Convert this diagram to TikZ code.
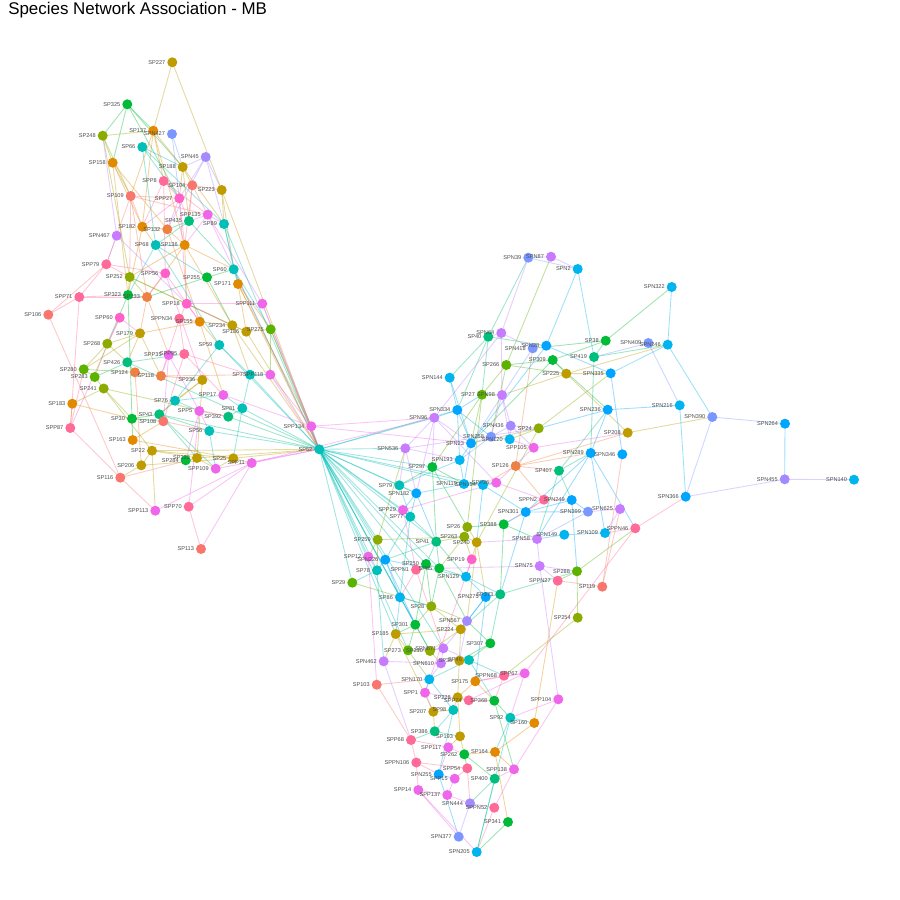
\documentclass[tikz,border=0pt]{standalone}
\usepackage{fontspec}
\setmainfont{Liberation Sans}
\pgfdeclarelayer{bg}
\pgfdeclarelayer{fg}
\pgfsetlayers{bg,main,fg}
\definecolor{c1}{HTML}{F8766D}
\definecolor{c2}{HTML}{E18A00}
\definecolor{c2b}{HTML}{EE8044}
\definecolor{c3}{HTML}{BE9C00}
\definecolor{c4}{HTML}{8CAB00}
\definecolor{c5}{HTML}{5BB300}
\definecolor{c6}{HTML}{00BA38}
\definecolor{c7}{HTML}{00BF7D}
\definecolor{c8}{HTML}{00BFB8}
\definecolor{c9}{HTML}{00B4EF}
\definecolor{c10}{HTML}{00A5FF}
\definecolor{c11}{HTML}{7997FF}
\definecolor{c12}{HTML}{A58AFF}
\definecolor{c13}{HTML}{C77CFF}
\definecolor{c14}{HTML}{F066EA}
\definecolor{c15}{HTML}{FF6A98}
\definecolor{c16}{HTML}{FF61C9}
\definecolor{labgray}{HTML}{4D4D4D}
\newcommand\nd[5]{%
  \node[dot,fill=#4] (#1) at (#2,#3) {};%
  \expandafter\gdef\csname ec#1\endcsname{#4}%
  \begin{pgfonlayer}{fg}\node[lab] (#1-t) at ({#2-6.8},#3) {#5};\end{pgfonlayer}}
\begin{document}
\begin{tikzpicture}[x=0.75pt,y=-0.75pt,
  dot/.style={circle,inner sep=0pt,minimum size=7.5pt,draw=none},
  lab/.style={font=\fontsize{4.2}{5}\selectfont,text=labgray,inner sep=0pt,anchor=east},
  edge/.style={line width=0.65pt,opacity=0.38},
  ttl/.style={font=\fontsize{12.7}{14}\selectfont,anchor=base west,inner sep=0pt}]
\useasboundingbox (0,0) rectangle (900,900);
\begin{pgfonlayer}{bg}\fill[white] (0,0) rectangle (900,900);\end{pgfonlayer}
\node[ttl] (title) at (8,14) {Species Network Association - MB};
% ---- left cluster
\nd{SP227}{172.3}{62.3}{c3}{SP227}
\nd{SP325}{127.3}{104.3}{c6}{SP325}
\nd{SP137}{153.3}{130.7}{c2}{SP137}
\nd{SPN427}{172}{134}{c11}{SPN427}
\nd{SP248}{102.7}{135.7}{c4}{SP248}
\nd{SP66}{142.3}{147}{c8}{SP66}
\nd{SPN45}{205.7}{157}{c12}{SPN45}
\nd{SP158}{112.7}{162.7}{c2}{SP158}
\nd{SP188}{182.7}{167}{c3}{SP188}
\nd{SPP8}{163.7}{181}{c15}{SPP8}
\nd{SP104}{192.3}{185.3}{c1}{SP104}
\nd{SP223}{221.7}{190}{c3}{SP223}
\nd{SP109}{130.7}{196}{c1}{SP109}
\nd{SPP27}{179.3}{198.3}{c16}{SPP27}
\nd{SPP135}{207.7}{214.7}{c14}{SPP135}
\nd{SP435}{189}{221}{c7}{SP435}
\nd{SP89}{224}{224}{c8}{SP89}
\nd{SP182}{142.3}{226.7}{c2}{SP182}
\nd{SP132}{167.3}{229.3}{c2b}{SP132}
\nd{SPN467}{116.7}{235.7}{c13}{SPN467}
\nd{SP68}{155.7}{245}{c8}{SP68}
\nd{SP136}{184.7}{245}{c2}{SP136}
\nd{SPP79}{106.3}{264.3}{c15}{SPP79}
\nd{SPP56}{165.3}{273.3}{c16}{SPP56}
\nd{SP60}{233.7}{269.3}{c8}{SP60}
\nd{SP255}{207}{277.3}{c6}{SP255}
\nd{SP252}{129.7}{277}{c4}{SP252}
\nd{SP171}{238}{284}{c2}{SP171}
\nd{SPP71}{79.3}{297}{c15}{SPP71}
\nd{SP323}{128}{295}{c6}{SP323}
\nd{SP133}{147}{297}{c2b}{SP133}
\nd{SPP18}{186.7}{303.7}{c16}{SPP18}
\nd{SPP111}{262.3}{303.7}{c14}{SPP111}
\nd{SP106}{48.3}{314.7}{c1}{SP106}
\nd{SPP60}{119.7}{317.7}{c16}{SPP60}
\nd{SPPN34}{179.3}{318.7}{c15}{SPPN34}
\nd{SP155}{199.7}{321.7}{c2}{SP155}
\nd{SP234}{232.3}{325.3}{c3}{SP234}
\nd{SP186}{246.3}{331.7}{c3}{SP186}
\nd{SP275}{270.7}{329.3}{c5}{SP275}
\nd{SP179}{140}{333.3}{c3}{SP179}
\nd{SP268}{107.3}{343.7}{c4}{SP268}
\nd{SP59}{219.3}{345}{c8}{SP59}
\nd{SPP35}{168.7}{355}{c14}{SPP35}
\nd{SPP95}{184.3}{354}{c15}{SPP95}
\nd{SP426}{127.3}{362.3}{c7}{SP426}
\nd{SP280}{83.7}{369.3}{c5}{SP280}
\nd{SP124}{135}{372.3}{c2b}{SP124}
\nd{SP118}{161}{376}{c2b}{SP118}
\nd{SP283}{94.7}{377}{c5}{SP283}
\nd{SP236}{202.3}{380}{c3}{SP236}
\nd{SP7}{250}{374.7}{c8}{SP7}
\nd{SPP118}{270.3}{374.7}{c14}{SPP118}
\nd{SP241}{103.7}{388.5}{c4}{SP241}
\nd{SP183}{72.3}{403.7}{c2}{SP183}
\nd{SPP17}{223.3}{395}{c14}{SPP17}
\nd{SP76}{175}{400.7}{c8}{SP76}
\nd{SP81}{242.3}{408.3}{c8}{SP81}
\nd{SPP5}{199.3}{411}{c14}{SPP5}
\nd{SP43}{159.3}{414.3}{c7}{SP43}
\nd{SP392}{228.3}{416.7}{c7}{SP392}
\nd{SP30}{132}{418.7}{c6}{SP30}
\nd{SP108}{163.3}{421.3}{c1}{SP108}
\nd{SPP134}{311.3}{426.3}{c14}{SPP134}
\nd{SPP87}{70.3}{428}{c15}{SPP87}
\nd{SP56}{209.3}{431}{c8}{SP56}
\nd{SP163}{132.7}{440}{c2}{SP163}
\nd{SP52}{319.3}{449.3}{c8}{SP52}
\nd{SP22}{152}{450.7}{c3}{SP22}
\nd{SP25}{233.3}{458.3}{c3}{SP25}
\nd{SP222}{197}{458}{c3}{SP222}
\nd{SP284}{185.7}{460.3}{c6}{SP284}
\nd{SPP11}{251.7}{463}{c14}{SPP11}
\nd{SP206}{141.3}{465.3}{c3}{SP206}
\nd{SPP109}{215.7}{468.7}{c14}{SPP109}
\nd{SP116}{120.3}{477.7}{c1}{SP116}
\nd{SPP70}{188.7}{506.7}{c15}{SPP70}
\nd{SPP113}{155.3}{510.7}{c14}{SPP113}
\nd{SP113}{201}{549}{c1}{SP113}
% ---- right cluster
\nd{SPN39}{528.3}{257.7}{c11}{SPN39}
\nd{SPN87}{551}{256.7}{c13}{SPN87}
\nd{SPN2}{577.7}{269}{c9}{SPN2}
\nd{SPN322}{671.7}{287}{c9}{SPN322}
\nd{SPN64}{501.3}{333}{c13}{SPN64}
\nd{SP40}{488.3}{336.7}{c7}{SP40}
\nd{SPN418}{532.7}{348.3}{c11}{SPN418}
\nd{SPN28}{546.3}{345.7}{c10}{SPN28}
\nd{SP38}{605.7}{340.7}{c6}{SP38}
\nd{SPN409}{648.3}{343}{c11}{SPN409}
\nd{SPN246}{667.7}{344.7}{c9}{SPN246}
\nd{SP419}{594}{357}{c7}{SP419}
\nd{SP309}{552.7}{360}{c6}{SP309}
\nd{SP266}{506.3}{365}{c5}{SP266}
\nd{SP225}{566.3}{373.7}{c3}{SP225}
\nd{SPN335}{610.7}{373.3}{c10}{SPN335}
\nd{SPN144}{449.7}{377.7}{c9}{SPN144}
\nd{SP27}{482}{394.7}{c5}{SP27}
\nd{SPN88}{502}{395}{c13}{SPN98}
\nd{SPN216}{679.7}{405.3}{c9}{SPN216}
\nd{SPN236}{607.7}{409.7}{c10}{SPN236}
\nd{SPN334}{457.3}{410}{c10}{SPN334}
\nd{SPN390}{712.3}{417}{c11}{SPN390}
\nd{SPN96}{434.3}{417.7}{c13}{SPN96}
\nd{SPN264}{785}{423.7}{c10}{SPN264}
\nd{SPN436}{510.7}{425.7}{c12}{SPN436}
\nd{SP24}{538.7}{428.3}{c4}{SP24}
\nd{SP208}{627.7}{432.7}{c3}{SP208}
\nd{SPN258}{491}{436.7}{c11}{SPN258}
\nd{SPN120}{509.7}{439.3}{c9}{SPN120}
\nd{SPN23}{471}{443.3}{c10}{SPN23}
\nd{SPN536}{405.3}{448.3}{c13}{SPN536}
\nd{SPP105}{533.7}{447.7}{c14}{SPP105}
\nd{SPN289}{590.7}{453}{c10}{SPN289}
\nd{SPN346}{622.3}{454.3}{c10}{SPN346}
\nd{SPN193}{459.7}{460}{c9}{SPN193}
\nd{SP126}{515.7}{466}{c2b}{SP126}
\nd{SP297}{432.3}{467}{c6}{SP297}
\nd{SP407}{559}{470.7}{c7}{SP407}
\nd{SPN455}{784.7}{479.3}{c12}{SPN455}
\nd{SPN140}{854}{479.7}{c9}{SPN140}
\nd{SPN119}{464}{484}{c9}{SPN119}
\nd{SPN154}{483}{485}{c9}{SPN154}
\nd{SPP26}{496.3}{482.7}{c14}{SPP26}
\nd{SP79}{399.3}{485.3}{c8}{SP79}
\nd{SPN182}{416.3}{493.3}{c10}{SPN182}
\nd{SPN366}{685.7}{496.7}{c10}{SPN366}
\nd{SPPN2}{544}{499.7}{c15}{SPPN2}
\nd{SPN249}{571.7}{500}{c10}{SPN249}
\nd{SPN625}{620}{509}{c13}{SPN625}
\nd{SPP29}{403}{510}{c14}{SPP29}
\nd{SPN301}{525.7}{512}{c10}{SPN301}
\nd{SPN399}{588}{511.7}{c11}{SPN399}
\nd{SP77}{410.3}{516.7}{c8}{SP77}
\nd{SPPN46}{635.3}{528.3}{c15}{SPPN46}
\nd{SP388}{503.7}{524.3}{c6}{SP388}
\nd{SP26}{467.3}{527}{c4}{SP26}
\nd{SPN109}{605}{533}{c9}{SPN109}
\nd{SPN149}{564.3}{534.7}{c9}{SPN149}
\nd{SP263}{464.3}{536.7}{c4}{SP263}
\nd{SPN58}{537}{539}{c13}{SPN58}
\nd{SP259}{377.7}{539.7}{c4}{SP259}
\nd{SP41}{436.3}{541.7}{c7}{SP41}
\nd{SP240}{476.7}{542.3}{c3}{SP240}
\nd{SPP12}{368.3}{556.7}{c14}{SPP12}
\nd{SPP19}{471.7}{559.3}{c16}{SPP19}
\nd{SPN226}{385.3}{559.7}{c10}{SPN226}
\nd{SP250}{426}{564}{c6}{SP250}
\nd{SPN75}{539.7}{566}{c13}{SPN75}
\nd{SP85}{439.3}{568.3}{c6}{SP85}
\nd{SPPN1}{416}{569.7}{c15}{SPPN1}
\nd{SP78}{377}{570.3}{c8}{SP78}
\nd{SP288}{577}{571.3}{c5}{SP288}
\nd{SPN129}{466}{576.7}{c9}{SPN129}
\nd{SPPN27}{557.7}{580.7}{c15}{SPPN27}
\nd{SP29}{352.3}{582.7}{c5}{SP29}
\nd{SP119}{602.3}{586.7}{c1}{SP119}
\nd{SP373}{500.3}{594.3}{c7}{SP373}
\nd{SPN275}{485.7}{597}{c10}{SPN275}
\nd{SP86}{400}{597.3}{c9}{SP86}
\nd{SP28}{431.3}{606.3}{c4}{SP28}
\nd{SP254}{577.7}{617.7}{c4}{SP254}
\nd{SPN567}{467}{621}{c12}{SPN567}
\nd{SP301}{415.3}{624.7}{c6}{SP301}
\nd{SP224}{460.7}{629.3}{c3}{SP224}
\nd{SP185}{395.7}{634}{c3}{SP185}
\nd{SP307}{490.3}{643.3}{c6}{SP307}
\nd{SPN671}{443.3}{648.3}{c13}{SPN671}
\nd{SP273}{408}{650.3}{c5}{SP273}
\nd{SP210}{430}{651}{c4}{SP210}
\nd{SP36}{459.3}{660.7}{c3}{SP36}
\nd{SP46}{469}{660}{c8}{SP46}
\nd{SPN462}{383.7}{661.3}{c13}{SPN462}
\nd{SPN610}{441}{663.3}{c13}{SPN610}
\nd{SPPN68}{504}{675.7}{c15}{SPPN68}
\nd{SPP67}{524.7}{673.3}{c14}{SPP67}
\nd{SPN170}{429.3}{679.3}{c9}{SPN170}
\nd{SP175}{475.3}{681.3}{c2}{SP175}
\nd{SP103}{376.7}{684.7}{c1}{SP103}
\nd{SPP1}{425}{692.7}{c14}{SPP1}
\nd{SP228}{457.7}{697.3}{c3}{SP228}
\nd{SPP74}{468.7}{700.3}{c15}{SPP74}
\nd{SP368}{494.3}{700.7}{c6}{SP368}
\nd{SPP104}{558.3}{699.3}{c14}{SPP104}
\nd{SP207}{433.3}{711.7}{c3}{SP207}
\nd{SP98}{453.3}{710}{c8}{SP98}
\nd{SP92}{510.3}{717.7}{c8}{SP92}
\nd{SP160}{534.3}{723}{c2}{SP160}
\nd{SP386}{434.7}{731.3}{c7}{SP386}
\nd{SP193}{460}{736.3}{c3}{SP193}
\nd{SPP68}{411}{740}{c15}{SPP68}
\nd{SPP117}{448.3}{747.3}{c14}{SPP117}
\nd{SP164}{495}{752}{c2}{SP164}
\nd{SP262}{464.3}{754.3}{c6}{SP262}
\nd{SPPN106}{416.3}{762.5}{c15}{SPPN106}
\nd{SPP54}{467.3}{768.3}{c15}{SPP54}
\nd{SPP138}{514}{769.3}{c14}{SPP138}
\nd{SPN255}{438.7}{774.3}{c10}{SPN255}
\nd{SPP15}{454.7}{778.7}{c14}{SPP15}
\nd{SP400}{494.7}{778.7}{c7}{SP400}
\nd{SPP14}{418.3}{790}{c14}{SPP14}
\nd{SPP137}{447.3}{795}{c14}{SPP137}
\nd{SPN444}{470}{803.3}{c12}{SPN444}
\nd{SPPN52}{494.3}{807.7}{c15}{SPPN52}
\nd{SP341}{508}{822}{c6}{SP341}
\nd{SPN377}{458.7}{836.7}{c11}{SPN377}
\nd{SPN205}{476.7}{852}{c9}{SPN205}
% ---- edges
\begin{pgfonlayer}{bg}
\foreach \a/\b in {
SP227/SP137, SP227/SP223,
SP325/SP248, SP325/SP158, SP325/SP188, SP325/SPP27, SP325/SP137,
SP248/SP137, SP248/SP158, SP248/SP252, SP248/SP109,
SP137/SP188, SP137/SPP8, SP137/SP136, SP137/SP182, SP137/SP109,
SPN427/SPP27, SPN427/SP188,
SP66/SP188, SP66/SP68, SP66/SPP27, SP66/SP89,
SPN45/SP188, SPN45/SP89, SPN45/SP223, SPN45/SP132, SPN45/SPP27,
SP158/SP109, SP158/SP132, SP158/SP182, SP158/SP323,
SP188/SP104, SP188/SP89, SP188/SPP27, SP188/SP435,
SPP8/SP104, SPP8/SPP56, SPP8/SPP135, SPP8/SPP27, SPP8/SP182,
SP104/SP223, SP104/SPP135, SP104/SP435, SP104/SP136,
SP109/SPP27, SP109/SPP135, SP109/SP182, SP109/SPP79, SP109/SP252, SP109/SP133,
SP223/SP89, SP223/SP60, SP223/SP52,
SPP27/SP136, SPP27/SP132, SPP27/SP182, SPP27/SP435, SPP27/SPP18,
SPP135/SP89, SPP135/SP435, SPP135/SPP111, SPP135/SP136, SPP135/SP52,
SP435/SP132, SP435/SP68, SP435/SP60,
SP89/SP60, SP89/SP52, SP89/SP171,
SP182/SP132, SP182/SP68, SP182/SP323,
SP132/SP136, SP132/SP155,
SPN467/SPP79, SPN467/SPP18, SPN467/SP248,
SP68/SP323, SP68/SP255, SP68/SP136, SP68/SP59,
SP136/SP252, SP136/SP60, SP136/SPP18, SP136/SP133, SP136/SP234,
SPP79/SPP71, SPP79/SPP56, SPP79/SP252,
SPP56/SP133, SPP56/SP155, SPP56/SP236,
SP255/SP133, SP255/SP234, SP255/SP60,
SP60/SP171, SP60/SP275, SP60/SP52,
SP252/SP323, SP252/SP133, SP252/SP234, SP252/SP186,
SP171/SP186, SP171/SP275, SP171/SP52, SP171/SPP134,
SPP71/SP133, SPP71/SP106, SPP71/SPP87, SPP71/SP323,
SP323/SP133, SP323/SP30, SP323/SP268,
SP133/SP179, SP133/SPP35,
SPP18/SP155, SPP18/SP234, SPP18/SPPN34, SPP18/SPP111,
SP106/SP116, SP106/SPP79,
SPP60/SP268, SPP60/SP179, SPP60/SPP87,
SPPN34/SP155, SPPN34/SP118, SPPN34/SPP95,
SP155/SP179, SP155/SP234, SP155/SP59, SP155/SPP17,
SP234/SP186, SP234/SP52, SP234/SP7,
SP186/SP275, SP186/SP52,
SP275/SPP118, SP275/SP52, SP275/SPP134,
SPP111/SP52, SPP111/SPP134,
SP179/SP268, SP179/SP426, SP179/SP280, SP179/SP118,
SP268/SP280, SP268/SP426, SP268/SP283,
SP59/SP76, SP59/SP7, SP59/SP52,
SPP35/SP118, SPP35/SPP5, SPP35/SP108,
SPP95/SPP17, SPP95/SP7, SPP95/SP108,
SP426/SP124, SP426/SPP95, SP426/SP283, SP426/SP52,
SP280/SP283, SP280/SP124,
SP124/SP118, SP124/SP206,
SP118/SP236, SP118/SP7,
SP236/SP76, SP236/SP222, SP236/SP43,
SP7/SPP118, SP7/SP81, SP7/SP52,
SPP118/SP52, SPP118/SPP134,
SP241/SP283, SP241/SP183, SP241/SP30, SP241/SP392, SP241/SP22,
SP183/SPP87, SP183/SP30,
SPP87/SP116, SPP87/SP280,
SP30/SP43, SP30/SP163, SP30/SP108,
SP43/SP108, SP43/SP76, SP43/SP56, SP43/SPP109, SP43/SP222, SP43/SP52,
SP76/SPP5, SP76/SPP17,
SPP5/SP56, SPP5/SP392, SPP5/SPP70, SPP5/SP284,
SP81/SP392, SP81/SPP17, SP81/SP25, SP81/SP52,
SP392/SP52, SPP17/SPP134,
SP56/SP52, SP56/SPP109,
SP163/SP25, SP163/SP108,
SP22/SP206, SP22/SPP113, SP22/SP222, SP22/SP25, SP22/SP52,
SP222/SP284, SP222/SPP109, SP222/SP52,
SP25/SPP11, SP25/SPP109, SP25/SP52,
SPP11/SP113, SPP11/SPP113, SPP11/SPP70, SPP11/SP52,
SPP109/SP52, SP206/SP116, SP206/SP25,
SP116/SPP113, SP116/SP222, SPP70/SP113, SP108/SP56, SPP134/SP52,
SP52/SPN334, SPP134/SPN96, SP52/SPN96, SP52/SPN536, SP52/SP297, SP52/SP79,
SP52/SPN182, SP52/SPP29, SP52/SP77, SP52/SPN119, SP52/SPN154, SP52/SP259,
SP52/SPP12, SP52/SPN226, SP52/SP78, SP52/SP29, SP52/SP86, SP52/SP301,
SP52/SP185, SP52/SP273, SP52/SP210, SP52/SPN671, SP52/SP41, SP52/SP250,
SP52/SP85, SP52/SPPN1, SPP134/SPN23, SPP11/SPN96,
SPN39/SPN87, SPN39/SPN2, SPN64/SPN39, SP40/SPN39, SP266/SPN87, SPN87/SPN2,
SPN2/SPN28, SPN2/SP419,
SP419/SPN289, SP419/SPN246, SP419/SP38,
SPN64/SP40, SP40/SPN144, SP40/SPN28, SPN64/SPN88, SP40/SPN334, SP40/SP27, SPN64/SPN96, SPN64/SPN418,
SPN144/SPN334, SPN144/SPN23,
SP126/SPN418, SPN418/SPN23,
SPN28/SPN23, SPN28/SPN335,
SP309/SP266, SP309/SP38, SP309/SP225, SP309/SPN23, SP309/SPN236,
SP266/SP225, SP266/SP27, SP266/SPN258,
SP225/SPN246, SP225/SPN335, SP225/SP208, SP225/SPN88,
SP38/SPN322, SP38/SPN418,
SPN322/SPN246,
SPN246/SPN335, SPN246/SPN390,
SPN409/SPN216, SPN409/SP419,
SPN335/SPN346, SP24/SPN335,
SPN236/SPN216, SPN236/SPN289, SP407/SPN236, SPN236/SP24,
SPN216/SPN366,
SPN390/SPN366, SPN390/SPN264, SP208/SPN390,
SPN264/SPN455, SPN455/SPN366, SPN455/SPN140,
SPP105/SP208, SP126/SP208,
SP126/SPN289, SPN289/SPN301, SPN289/SPN58, SPN289/SPPN46, SPN289/SPN109,
SP119/SPN346, SP119/SPN625, SP119/SPPN27,
SPN625/SPN399, SPN625/SPN109,
SPPN46/SPN366, SP288/SPPN46, SPPN46/SPP67, SPPN46/SPN109,
SPN149/SPN109, SPN149/SPN58,
SP288/SP254, SP288/SPPN27, SPN249/SP288,
SP254/SPPN68, SP160/SPPN27,
SPN334/SPN96, SPN334/SP27, SPN334/SPN23, SPN334/SPN193, SPN334/SPN258,
SPN96/SPN536, SPN96/SP297, SPN96/SPN23, SPN96/SPN182, SPN96/SPP26,
SP27/SPN88, SP27/SPN23, SP27/SP26, SP27/SP297,
SPN88/SPN436, SPN88/SPN258, SPN88/SPN120,
SPN436/SP24, SPN436/SPN258, SPN436/SPN120, SPN436/SPP105,
SP24/SPN120, SP24/SP240, SP24/SPN23,
SPN258/SPN23, SPN258/SPN120, SPN258/SPN193,
SPN23/SPN193, SPN23/SPN119,
SPN536/SP79, SPN536/SPN193, SPN536/SP24, SPN536/SPN182,
SPP105/SPP26, SPP105/SPN120,
SPN193/SPN119, SPN193/SP79,
SP126/SP407, SP126/SPPN2, SP126/SPN154,
SP297/SP79, SP297/SPN119, SP297/SP26, SP297/SP41,
SP407/SPN289, SP407/SPN249, SP407/SPN58,
SPN119/SPN154, SPN119/SPN182, SPN119/SPP26,
SPN154/SPP26, SPN154/SPN301, SPN154/SP240,
SPP26/SPPN2, SPP26/SPP29,
SP79/SPN182, SP79/SP77,
SPN182/SP77, SPN182/SPP29, SPN182/SP41,
SPPN2/SPN249, SPPN2/SPN301, SPPN2/SP388,
SPN249/SPN399, SPN249/SPN301,
SPN301/SP388, SPN301/SPN399, SPN301/SP373,
SPN399/SPN58,
SPP29/SP77, SPP29/SPPN1,
SP77/SP41, SP77/SP86, SP77/SPN226,
SP388/SP26, SP388/SPN58, SP388/SP373,
SP26/SP263, SP26/SP240,
SP263/SP240, SP263/SP41, SP263/SP85, SP263/SPP19,
SPN58/SPN75, SPN58/SP240,
SP259/SPP12, SP259/SP263, SP259/SP78, SP259/SPN536,
SP41/SPN226, SP41/SP250, SP41/SP85, SP41/SPN129,
SP240/SPP19, SP240/SPN275, SP240/SPN567,
SPP12/SPN226, SPP12/SP78, SPP12/SP103,
SPP19/SPN129, SPP19/SPP1,
SPN226/SP78, SPN226/SP86, SPN226/SPN129, SPN226/SP301,
SP250/SP85, SP250/SPPN1, SP250/SP28, SP250/SP301,
SPN75/SP85, SPN75/SPPN27, SPN75/SP288, SPN75/SPP104,
SP85/SPN129, SP85/SP28, SP85/SPN567,
SPPN1/SP86, SPPN1/SPN671,
SP78/SP29, SP78/SPN462,
SPN129/SPN275, SPN129/SP373,
SP29/SP28,
SP373/SPN275, SP373/SP224, SP373/SP307, SP373/SP288,
SPN275/SPN567, SPN275/SP224, SPN275/SP175,
SP86/SP301, SP86/SP28, SP86/SP185,
SP28/SP301, SP28/SPN567, SP28/SP224,
SPN567/SP224, SPN567/SPN671, SPN567/SP36,
SP301/SP185, SP301/SP273, SP301/SP210,
SP224/SP185, SP224/SP36, SP224/SP210,
SP185/SP273, SP185/SPN462, SP185/SP207,
SP307/SP46, SP307/SP36, SP307/SPN567,
SPN671/SP210, SPN671/SP273, SPN671/SPN610, SPN671/SP46,
SP273/SP210, SP273/SPN170,
SP210/SPN610,
SP36/SP46, SP36/SP228,
SP46/SPN170, SP46/SP368, SP46/SPPN68,
SPN462/SPP68, SPN462/SPN610,
SPN610/SPN170,
SPPN68/SPP67, SPPN68/SP175, SPPN68/SP368,
SPP67/SP92, SPP67/SP175, SPP67/SPP74,
SPN170/SPP1, SPN170/SP98,
SP175/SP228, SP175/SP368,
SP103/SPP68, SP103/SPN170,
SPP1/SP207, SPP1/SPP74,
SP228/SPP74, SP228/SP98, SP228/SP193,
SPP74/SP368,
SP368/SP92, SP368/SPP138,
SPP104/SP92, SPP104/SPP138,
SP207/SP98, SP207/SP386,
SP98/SP386, SP98/SPN255,
SP92/SP160, SP92/SP164, SP92/SPN205,
SP160/SP164,
SP386/SP193, SP386/SPP68,
SP193/SPP117, SP193/SP262,
SPP68/SPP117, SPP68/SPPN106,
SPP117/SP262, SPP117/SPN255,
SP164/SP262, SP164/SPP138, SP164/SP341,
SP262/SPP54, SP262/SP400,
SPPN106/SPN255, SPPN106/SPP14, SPPN106/SPP54,
SPP54/SPP15, SPP54/SPN444,
SPP138/SP400, SPP138/SPPN52,
SPN255/SPP15, SPN255/SPN377,
SPP15/SPP137,
SP400/SPN444, SP400/SPN205,
SPP14/SPP137, SPP14/SPN205, SPP14/SPN377,
SPP137/SPN444,
SPN444/SPPN52, SPN444/SPN377,
SPPN52/SPN205,
SP341/SPN205}
{\edef\tmpc{\csname ec\a\endcsname}\draw[edge,draw=\tmpc] (\a.center) -- (\b.center);}
\end{pgfonlayer}
\end{tikzpicture}
\end{document}
